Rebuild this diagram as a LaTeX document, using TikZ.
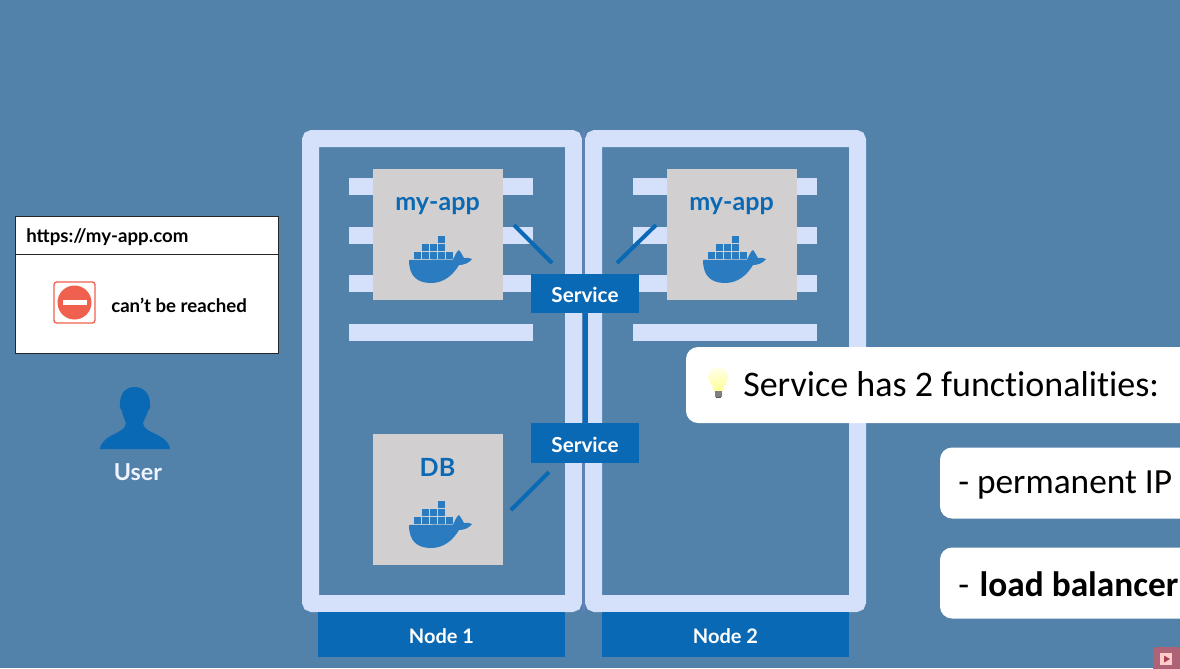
\documentclass[tikz,border=0pt]{standalone}
\usepackage{fontspec}
\setmainfont{Lato}
\newfontfamily\callfont[Ligatures=NoCommon]{Carlito}
\usetikzlibrary{positioning}
\definecolor{bgblue}{HTML}{5281AA}
\definecolor{frameblue}{HTML}{D5E1FB}
\definecolor{gapblue}{HTML}{5E82B4}
\definecolor{boxgrey}{HTML}{D2CFD0}
\definecolor{kblue}{HTML}{0A69B4}
\definecolor{whaleblue}{HTML}{2A7BC0}
\definecolor{stopred}{HTML}{F0604E}
\tikzset{
  px/.style 2 args={minimum width={#1*0.75pt},minimum height={#2*0.75pt},inner sep=0pt,outer sep=0pt},
  frameline/.style={draw=frameblue,line width=12.75pt,rounded corners=1.5pt},
  stripe/.style={fill=frameblue,px={184}{17}},
  podbox/.style={fill=boxgrey,px={130}{131}},
  servicebox/.style={fill=kblue,px={108}{39.5},text=white,text height=14pt,text depth=0pt,font=\bfseries\fontsize{15.5}{17}\selectfont},
  nodebar/.style={fill=kblue,px={247}{45},text=white,text height=14pt,text depth=0pt,font=\bfseries\fontsize{15}{17}\selectfont},
  podlabel/.style={text=kblue,font=\bfseries\fontsize{18.8}{21}\selectfont,inner sep=0pt},
  link/.style={draw=kblue,line width=3pt},
  bigtext/.style={text=black,font=\callfont\fontsize{26.5}{30}\selectfont,inner sep=0pt,anchor=west},
  callout/.style={fill=white,rounded corners=9pt,inner sep=0pt,outer sep=0pt},
  browser/.style={fill=white,draw=black!85,line width=0.6pt,inner sep=0pt,outer sep=0pt},
  smalltext/.style={text=black,font=\bfseries\fontsize{14}{16}\selectfont,inner sep=0pt},
  whale/.pic={
    \fill[whaleblue] (0,0) -- (44,-0.5) .. controls (46,-4) and (47,-8) .. (50,-10)
      .. controls (52.5,-7) and (54,-3.5) .. (55,-2) .. controls (58,-2.5) and (61,-2) .. (63,-1)
      .. controls (60,3) and (55,5) .. (50,5) .. controls (44,15) and (35,23) .. (22,23)
      .. controls (8,23) and (0,16) .. (0,0) -- cycle;
    \foreach \bx in {5.2,13.2,21.2,29.2,37.2}{\fill[whaleblue] (\bx,-7.6) rectangle ++(6.8,6.6);}
    \foreach \bx in {13.2,21.2,29.2}{\fill[whaleblue] (\bx,-15.6) rectangle ++(6.8,6.6);}
    \fill[whaleblue] (29.2,-23.6) rectangle ++(6.8,6.6);
  },
  x=0.75pt,y=-0.75pt
}
\begin{document}
\begin{tikzpicture}
\clip (0,0) rectangle (1180,668);
\fill[bgblue] (0,0) rectangle (1180,668);
% frames
\draw[frameline] (310.5,138.5) rectangle (573.5,603.5);
\draw[frameline] (593.5,138.5) rectangle (857.5,603.5);
\fill[gapblue] (582,130) rectangle (585,612);
% stripes
\foreach \sy/\sn in {186.5/a,235/b,283.5/c,332.5/d}{
  \node[stripe] (sl\sn) at (441,\sy) {};
  \node[stripe] (sr\sn) at (725,\sy) {};
}
% pods
\node[podbox] (pod1) at (438,234.5) {};
\node[podbox] (pod2) at (732,234.5) {};
\node[podbox] (pod3) at (438,499.5) {};
\node[podlabel] (lab1) at (437.5,206) {my-app};
\node[podlabel] (lab2) at (731.5,206) {my-app};
\node[podlabel] (lab3) at (437.5,467) {DB};
\pic at (409,260) {whale};
\pic at (703,260) {whale};
\pic at (409,525) {whale};
% services
\node[servicebox] (svc1) at (585,293.5) {Service};
\node[servicebox] (svc2) at (585,443) {Service};
\draw[kblue,line width=3.75pt] (svc1) -- (svc2);
\coordinate (a1) at (514,225); \coordinate (a2) at (552,263);
\coordinate (b1) at (656,225); \coordinate (b2) at (617,263);
\coordinate (c1) at (549,472); \coordinate (c2) at (511,510);
\draw[link] (a1) -- (a2);
\draw[link] (b1) -- (b2);
\draw[link] (c1) -- (c2);
% node bars
\node[nodebar] (n1) at (441.5,634.5) {Node 1};
\node[nodebar] (n2) at (725.5,634.5) {Node 2};
% browser
\node[browser,px={263}{137}] (win) at (146.5,284.5) {};
\node[browser,px={263}{38}] (addr) at (146.5,235) {};
\node[smalltext,anchor=west] (url) at (26,237.5) {https://my-app.com};
\node[smalltext,anchor=west] (msg) at (111,305) {can't be reached};
\node[fill=white,draw=stopred,line width=1pt,rounded corners=2pt,px={41}{41}] (stopbox) at (74.5,302.5) {};
\node[circle,fill=stopred,px={34}{34}] (stopc) at (74.5,302.5) {};
\node[fill=white,px={24}{5.5}] (stopbar) at (74.5,302.5) {};
% user
\fill[kblue] (134.5,387) .. controls (125,387) and (120,394) .. (120,404)
  .. controls (119,406) and (120,409) .. (122,411) .. controls (123,417) and (125,420) .. (126,423)
  .. controls (125,432) and (112,433) .. (105,440) .. controls (102,443) and (100,446) .. (100,449)
  -- (170,449) .. controls (170,446) and (168,443) .. (165,440)
  .. controls (158,433) and (144,432) .. (143,423) .. controls (144,420) and (146,417) .. (148,411)
  .. controls (150,409) and (151,406) .. (150,404) .. controls (150,394) and (144,387) .. (134.5,387) -- cycle;
\node[text=frameblue!40!white,font=\bfseries\fontsize{17.5}{19}\selectfont,inner sep=0pt] (user) at (138,472.5) {User};
% callouts
\node[callout,px={560}{76},anchor=north west] (c1box) at (686,347) {};
\node[callout,px={300}{71},anchor=north west] (c2box) at (940,447.5) {};
\node[callout,px={300}{71},anchor=north west] (c3box) at (940,547.5) {};
\node[bigtext,font=\callfont\fontsize{27}{30}\selectfont] (t1) at (743,384) {Service has 2 functionalities:};
\node[bigtext] (t2) at (958,485) {- permanent IP};
\node[bigtext] (t3) at (958,584) {-\hspace{0.3em}{\bfseries load balancer}};
% bulb
\shade[top color=white!92!yellow,bottom color=yellow!40!white,draw=none]
  (718.5,367) .. controls (712,367) and (708.5,372) .. (708.5,377)
  .. controls (708.5,383) and (714,387) .. (714.5,391) -- (722.5,391)
  .. controls (723,387) and (728,383) .. (728,377) .. controls (728,372) and (725,367) .. (718.5,367) -- cycle;
\fill[black!50] (714.8,391) rectangle (722.2,396.5);
\fill[black!65] (716,396.5) rectangle (721,398);
% watermark
\fill[red!45!bgblue!85!white,rounded corners=2pt] (1153,647) rectangle (1190,675);
\fill[white!80!red] (1160,653) rectangle (1172,665);
\fill[red!50!bgblue] (1164,655.5) -- (1170,659) -- (1164,662.5) -- cycle;
\end{tikzpicture}
\end{document}
